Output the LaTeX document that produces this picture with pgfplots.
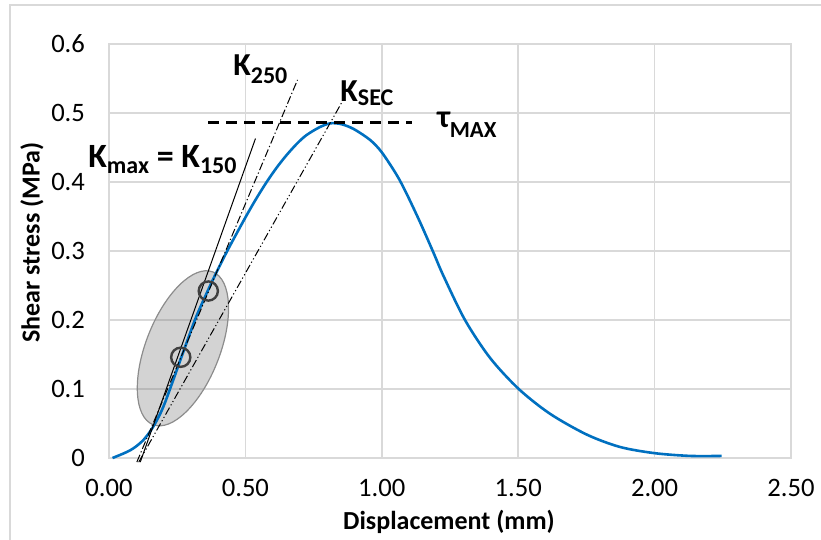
\documentclass[border=0pt]{standalone}
\usepackage{pgfplots}
\pgfplotsset{compat=1.18}
\usepackage{fontspec}
\setmainfont{Carlito}
\usetikzlibrary{shapes.geometric}

\definecolor{excelblue}{RGB}{0,112,192}
\definecolor{gridgray}{RGB}{217,217,217}
\definecolor{ringgray}{RGB}{64,64,64}
\definecolor{ellline}{RGB}{140,140,140}

\newcommand{\sub}[2]{\raisebox{-#1}{\fontsize{12}{14}\selectfont #2}}

\pgfplotstableread{
x      y
0.013  0.000
0.050  0.006
0.077  0.011
0.100  0.017
0.126  0.026
0.150  0.038
0.169  0.050
0.190  0.066
0.205  0.080
0.220  0.096
0.240  0.118
0.263  0.1435
0.290  0.173
0.320  0.205
0.364  0.244
0.400  0.274
0.444  0.308
0.502  0.350
0.540  0.376
0.578  0.400
0.615  0.421
0.651  0.439
0.690  0.456
0.724  0.468
0.770  0.479
0.810  0.485
0.850  0.484
0.896  0.477
0.957  0.461
1.000  0.443
1.055  0.410
1.091  0.383
1.140  0.342
1.189  0.298
1.226  0.264
1.305  0.200
1.397  0.145
1.502  0.100
1.617  0.064
1.751  0.034
1.873  0.016
2.000  0.007
2.130  0.003
2.246  0.003
}\curve

\begin{document}
\begin{tikzpicture}
\path[use as bounding box] (-54.5pt,-41pt) rectangle (356pt,229pt);
\draw[gridgray, line width=1pt] (-49.5pt,-70pt) rectangle (390pt,226.5pt);
\begin{axis}[
  at={(0pt,0pt)}, anchor=south west,
  scale only axis, width=341pt, height=207pt,
  xmin=0, xmax=2.5, ymin=0, ymax=0.6,
  xtick={0,0.5,1,1.5,2,2.5},
  ytick={0,0.1,0.2,0.3,0.4,0.5,0.6},
  /pgf/number format/assume math mode=true,
  x tick label style={/pgf/number format/fixed, /pgf/number format/fixed zerofill,
    /pgf/number format/precision=2, yshift=-7pt},
  y tick label style={/pgf/number format/fixed, xshift=-8.5pt},
  tick label style={font=\fontsize{13.3}{16}\selectfont},
  major tick length=0pt,
  axis line style={gridgray, line width=1pt},
  grid=major, major grid style={gridgray, line width=0.8pt},
  clip=false,
]
% shaded region round the two tangent points
\node[ellipse, draw=ellline, line width=0.6pt, fill=gray, fill opacity=0.35,
  draw opacity=1, minimum width=82pt, minimum height=37pt, inner sep=0pt,
  rotate=68.6] at (axis cs:0.271,0.159) {};

\addplot[excelblue, line width=1.3pt, smooth] table[x=x, y=y] {\curve};

% K150 (solid), K250 (dash-dot), Ksec (dash-dot-dot)
\addplot[black, line width=0.5pt] coordinates {(0.1145,-0.006) (0.537,0.463)};
\addplot[black, line width=0.5pt, dash pattern=on 4pt off 1.3pt on 0.6pt off 1.3pt]
  coordinates {(0.102,-0.006) (0.691,0.548)};
\addplot[black, line width=0.5pt,
  dash pattern=on 4pt off 1.3pt on 0.6pt off 1.3pt on 0.6pt off 1.3pt]
  coordinates {(0.109,-0.006) (0.855,0.5165)};

% tau max
\addplot[black, line width=1.4pt, dash pattern=on 5.5pt off 3.5pt]
  coordinates {(0.363,0.486) (1.11,0.486)};

\addplot[only marks, mark=o, mark size=4.8pt,
  mark options={draw=ringgray, line width=1.2pt}]
  coordinates {(0.263,0.146) (0.364,0.242)};

\node[anchor=base west, inner sep=0pt, font=\bfseries\fontsize{17}{20}\selectfont]
  at (axis cs:-0.077,0.4217) {K\sub{3pt}{max} = K\sub{3pt}{150}};
\node[anchor=base west, inner sep=0pt, font=\bfseries\fontsize{16}{19}\selectfont]
  at (axis cs:0.4545,0.555) {K\sub{4pt}{250}};
\node[anchor=base west, inner sep=0pt, font=\bfseries\fontsize{16}{19}\selectfont]
  at (axis cs:0.847,0.516) {K\sub{2pt}{SEC}};
\node[anchor=base west, inner sep=0pt, font=\bfseries\fontsize{16}{19}\selectfont]
  at (axis cs:1.202,0.4797) {τ\raisebox{-5pt}{\fontsize{11.5}{14}\selectfont MAX}};

\node[rotate=90, font=\bfseries\fontsize{13}{15}\selectfont]
  at ([xshift=-38.5pt]rel axis cs:0,0.52) {Shear stress (MPa)};
\node[font=\bfseries\fontsize{13}{15}\selectfont]
  at ([yshift=-32pt]rel axis cs:0.4985,0) {Displacement (mm)};
\end{axis}
\end{tikzpicture}
\end{document}
